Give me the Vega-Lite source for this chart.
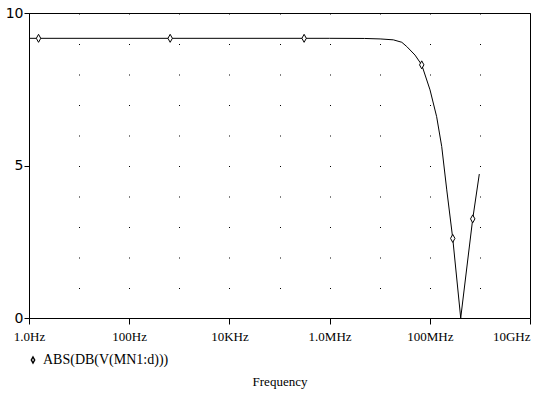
{
  "$schema": "https://vega.github.io/schema/vega-lite/v6.json",
  "width": 501,
  "height": 305,
  "autosize": {"type": "none"},
  "padding": {"left": 29, "top": 13, "right": 3, "bottom": 76},
  "background": "white",
  "config": {
    "view": {"stroke": "black", "strokeWidth": 1},
    "axis": {"domainColor": "black", "tickColor": "black", "labelColor": "black", "titleColor": "black"}
  },
  "datasets": {
    "curve": [
      {"freq": 1, "db": 9.17},
      {"freq": 1000000, "db": 9.17},
      {"freq": 5000000, "db": 9.165},
      {"freq": 10200000, "db": 9.15},
      {"freq": 18700000, "db": 9.12},
      {"freq": 27600000, "db": 9.04},
      {"freq": 34700000, "db": 8.9},
      {"freq": 50700000, "db": 8.62},
      {"freq": 69000000, "db": 8.3},
      {"freq": 101000000, "db": 7.48},
      {"freq": 137000000, "db": 6.6},
      {"freq": 173000000, "db": 5.62},
      {"freq": 218000000, "db": 4.2},
      {"freq": 287000000, "db": 2.61},
      {"freq": 414000000, "db": 0.0},
      {"freq": 719000000, "db": 3.25},
      {"freq": 973000000, "db": 4.72}
    ],
    "markers": [
      {"freq": 1.55, "db": 9.17, "series": "ABS(DB(V(MN1:d)))"},
      {"freq": 657, "db": 9.17, "series": "ABS(DB(V(MN1:d)))"},
      {"freq": 310000, "db": 9.17, "series": "ABS(DB(V(MN1:d)))"},
      {"freq": 69000000, "db": 8.3, "series": "ABS(DB(V(MN1:d)))"},
      {"freq": 287000000, "db": 2.61, "series": "ABS(DB(V(MN1:d)))"},
      {"freq": 719000000, "db": 3.25, "series": "ABS(DB(V(MN1:d)))"}
    ]
  },
  "layer": [
    {
      "data": {"name": "curve"},
      "mark": {"type": "line", "color": "black", "strokeWidth": 1, "clip": true},
      "encoding": {
        "x": {
          "field": "freq", "type": "quantitative",
          "scale": {"type": "log", "domain": [1, 10000000000], "nice": false},
          "axis": {
            "title": "Frequency",
            "titleFont": "Liberation Serif", "titleFontSize": 13, "titleFontWeight": "normal",
            "titleY": 63, "titleBaseline": "middle",
            "values": [1, 10, 100, 1000, 10000, 100000, 1000000, 10000000, 100000000, 1000000000, 10000000000],
            "labelExpr": "['1.0Hz','','100Hz','','10KHz','','1.0MHz','','100MHz','','10GHz'][round(log(datum.value)/LN10)]",
            "labelFont": "Liberation Serif", "labelFontSize": 13,
            "labelPadding": 6, "labelOverlap": false, "labelFlush": false,
            "labelAlign": {"condition": {"test": "datum.value > 5000000000", "value": "right"}, "value": "center"},
            "tickSize": 6,
            "tickOpacity": {"condition": {"test": "round(log(datum.value)/LN10) % 2 == 0", "value": 1}, "value": 0},
            "grid": true, "gridColor": "black", "gridOpacity": 1, "gridWidth": 1,
            "gridDash": [1, 29.5]
          }
        },
        "y": {
          "field": "db", "type": "quantitative",
          "scale": {"domain": [0, 10], "nice": false, "zero": false},
          "axis": {
            "title": null, "values": [0, 5, 10], "grid": false,
            "labelFont": "DejaVu Sans", "labelFontSize": 14, "labelPadding": 1, "tickSize": 5
          }
        }
      }
    },
    {
      "data": {"name": "markers"},
      "mark": {"type": "point", "size": 64, "stroke": "black", "strokeWidth": 1, "fill": "white", "filled": false, "opacity": 1},
      "encoding": {
        "x": {"field": "freq", "type": "quantitative"},
        "y": {"field": "db", "type": "quantitative"},
        "shape": {
          "field": "series", "type": "nominal",
          "scale": {"range": ["M0,-1L0.55,0L0,1L-0.55,0Z"]},
          "legend": {
            "title": null, "orient": "none", "legendX": -3, "legendY": 340,
            "padding": 0, "symbolSize": 36,
            "symbolOffset": 0,
            "labelFont": "Liberation Serif", "labelFontSize": 14, "labelColor": "black", "labelOffset": 3,
            "encode": {
              "symbols": {
                "update": {
                  "shape": {"value": "M0,-1L0.75,0L0,1L-0.75,0Z"},
                  "stroke": {"value": "black"},
                  "strokeWidth": {"value": 1},
                  "fill": {"value": "white"},
                  "opacity": {"value": 1},
                  "size": {"value": 30}
                }
              }
            }
          }
        }
      }
    }
  ]
}
